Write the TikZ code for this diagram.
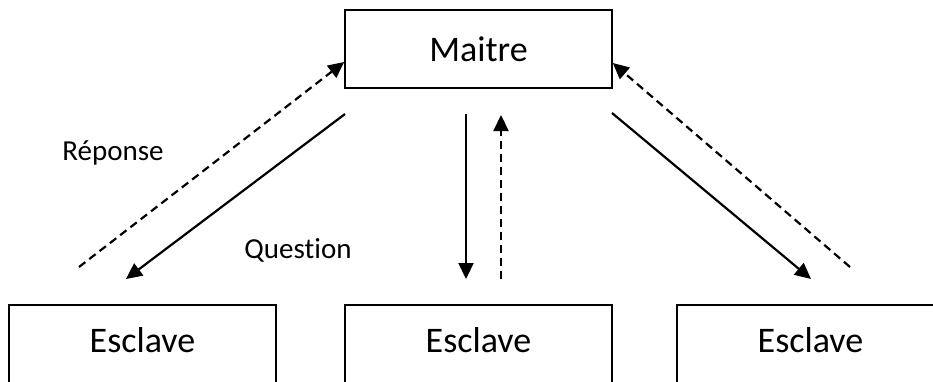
\documentclass[tikz,border=0pt]{standalone}
\usepackage{fontspec}
\setmainfont[Ligatures=NoCommon]{Carlito}
\usetikzlibrary{arrows.meta}
\begin{document}
\begin{tikzpicture}[x=1pt,y=-1pt,
  box/.style={draw,line width=1.6pt,minimum width=267pt,minimum height=78pt,inner sep=0pt,font=\fontsize{36}{40}\selectfont},
  lowbox/.style={box,minimum height=96pt,text depth=26pt,anchor=north},
  lbl/.style={inner sep=0pt,font=\fontsize{29}{32}\selectfont},
  conn/.style={line width=2.2pt,-{Triangle[length=16pt,width=15pt]}},
  resp/.style={conn,dash pattern=on 8pt off 5pt}]
\useasboundingbox (0,0) rectangle (933,381);
\clip (0,0) rectangle (933,381);
\node[box] (m) at (478.5,49) {Maitre};
\node[lowbox] (e1) at (142.5,304) {Esclave};
\node[lowbox] (e2) at (478.5,304) {Esclave};
\node[lowbox] (e3) at (810.5,304) {Esclave};
\node[lbl] (rep) at (113,153) {Réponse};
\node[lbl] (q) at (298,250) {Question};
% free ends
\coordinate (a1) at (79,267);
\coordinate (a2) at (345,114);
\coordinate (a3) at (126,279);
\coordinate (b1) at (466,114);
\coordinate (b2) at (466,279);
\coordinate (b3) at (501,279);
\coordinate (b4) at (501,115);
\coordinate (c1) at (850,267);
\coordinate (c2) at (612,113);
\coordinate (c3) at (811,279);
\draw[resp] (a1) -- (m.west |- 0,62);
\draw[conn] (a2) -- (a3);
\draw[conn] (b1) -- (b2);
\draw[resp] (b3) -- (b4);
\draw[resp] (c1) -- (m.east |- 0,63);
\draw[conn] (c2) -- (c3);
\end{tikzpicture}
\end{document}
